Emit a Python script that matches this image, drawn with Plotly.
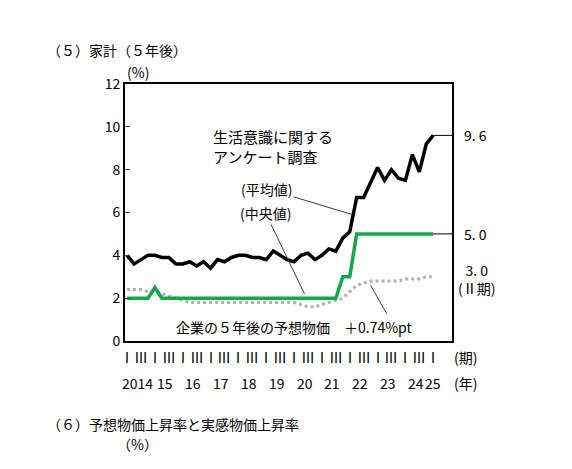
import plotly.graph_objects as go

# quarterly, 2014 Q1 .. 2025 Q1
mean_vals = [4.0, 3.6, 3.8, 4.0, 4.0, 3.9, 3.9, 3.6, 3.6, 3.7, 3.5, 3.7, 3.4, 3.8, 3.7, 3.9,
             4.0, 4.0, 3.9, 3.9, 3.8, 4.2, 4.0, 3.8, 3.7, 4.0, 4.1, 3.8, 4.0, 4.3, 4.2, 4.8,
             5.1, 6.7, 6.7, 7.4, 8.1, 7.5, 8.0, 7.6, 7.5, 8.7, 7.9, 9.2, 9.6]
median_vals = [2.0, 2.0, 2.0, 2.0, 2.5, 2.0, 2.0, 2.0, 2.0, 2.0, 2.0, 2.0, 2.0, 2.0, 2.0, 2.0,
               2.0, 2.0, 2.0, 2.0, 2.0, 2.0, 2.0, 2.0, 2.0, 2.0, 2.0, 2.0, 2.0, 2.0, 2.0, 3.0,
               3.0, 5.0, 5.0, 5.0, 5.0, 5.0, 5.0, 5.0, 5.0, 5.0, 5.0, 5.0, 5.0]
firm_vals = [2.4, 2.4, 2.4, 2.3, 2.3, 2.2, 2.1, 2.0, 1.9, 1.8, 1.8, 1.8, 1.8, 1.8, 1.8, 1.8,
             1.8, 1.8, 1.8, 1.8, 1.8, 1.8, 1.8, 1.8, 1.8, 1.7, 1.6, 1.6, 1.7, 1.8, 1.9, 2.0,
             2.3, 2.6, 2.7, 2.8, 2.8, 2.8, 2.8, 2.8, 2.9, 2.9, 2.9, 3.0, 3.0]
years = ["2014", "15", "16", "17", "18", "19", "20", "21", "22", "23", "24", "25"]

x = list(range(len(mean_vals)))
font = "Noto Sans CJK JP"

fig = go.Figure()
fig.add_trace(go.Scatter(x=x, y=firm_vals, mode="lines",
                         line=dict(color="#b0b0b0", width=3, dash="dot")))
fig.add_trace(go.Scatter(x=x, y=median_vals, mode="lines",
                         line=dict(color="#12a84a", width=3.5)))
fig.add_trace(go.Scatter(x=x, y=mean_vals, mode="lines",
                         line=dict(color="black", width=3.5)))

ann = []
# quarter and year labels
for i, yr in enumerate(years):
    ann.append(dict(x=4 * i, y=0, text="Ⅰ", showarrow=False, yshift=-16))
    if i < len(years) - 1:
        ann.append(dict(x=4 * i + 2, y=0, text="Ⅲ", showarrow=False, yshift=-16))
    ann.append(dict(x=4 * i + (1.5 if i < len(years) - 1 else 0), y=0, text=yr,
                    showarrow=False, yshift=-42))
ann += [
    dict(x=1, y=0, xref="paper", text="(期)", showarrow=False, xanchor="left", yshift=-16),
    dict(x=1, y=0, xref="paper", text="(年)", showarrow=False, xanchor="left", yshift=-42),
    dict(x=-0.3, y=12, text="(%)", showarrow=False, xanchor="left", yshift=12),
    dict(x=1, y=9.6, xref="paper", text="9. 6", showarrow=False, xanchor="left", xshift=10),
    dict(x=1, y=5.0, xref="paper", text="5. 0", showarrow=False, xanchor="left", xshift=10),
    dict(x=1, y=3.0, xref="paper", text="3. 0<br>(Ⅱ期)", showarrow=False, xanchor="left",
         xshift=4, yshift=-2),
    dict(x=12, y=9.1, text="生活意識に関する<br>アンケート調査", showarrow=False,
         xanchor="left", font=dict(size=15), align="left"),
    dict(x=32.4, y=5.9, ax=-86, ay=-26, text="(平均値)", arrowhead=0, arrowwidth=1),
    dict(x=25.5, y=2.2, ax=-39, ay=-81, text="(中央値)", arrowhead=0, arrowwidth=1),
    dict(x=35, y=2.6, ax=17, ay=30, text="", arrowhead=0, arrowwidth=1),
    dict(x=24, y=0.65, text="企業の５年後の予想物価　＋0.74%pt", showarrow=False),
    dict(x=0, y=1, xref="paper", yref="paper", text="（５）家計（５年後）", showarrow=False,
         xanchor="left", yanchor="bottom", xshift=-80, yshift=22, font=dict(size=14)),
    dict(x=0, y=0, xref="paper", yref="paper", text="（６）予想物価上昇率と実感物価上昇率",
         showarrow=False, xanchor="left", yshift=-95, xshift=-80, font=dict(size=14)),
    dict(x=0, y=0, xref="paper", yref="paper", text="（%）", showarrow=False,
         xanchor="left", yshift=-115, xshift=-10),
]
for a in ann:
    a.setdefault("xref", "x")
    a.setdefault("yref", "y")

shapes = [
    dict(type="line", xref="x", yref="y", x0=44, x1=47.3, y0=9.6, y1=9.6, line=dict(color="black", width=1)),
    dict(type="line", xref="x", yref="y", x0=44, x1=47.3, y0=5.0, y1=5.0, line=dict(color="black", width=1)),
]

fig.update_layout(
    width=572, height=469, margin=dict(l=117, r=128, t=76, b=136),
    plot_bgcolor="white", paper_bgcolor="white", showlegend=False,
    font=dict(family=font, size=14, color="black"),
    annotations=ann, shapes=shapes,
    xaxis=dict(range=[-0.3, 46.7], showticklabels=False, ticks="", showgrid=False,
               showline=True, linecolor="black", linewidth=2, mirror=True, zeroline=False),
    yaxis=dict(range=[0, 12], dtick=2, ticks="inside", ticklen=5, showgrid=False,
               showline=True, linecolor="black", linewidth=2, mirror=True, zeroline=False),
)
fig.write_html("out.html")
